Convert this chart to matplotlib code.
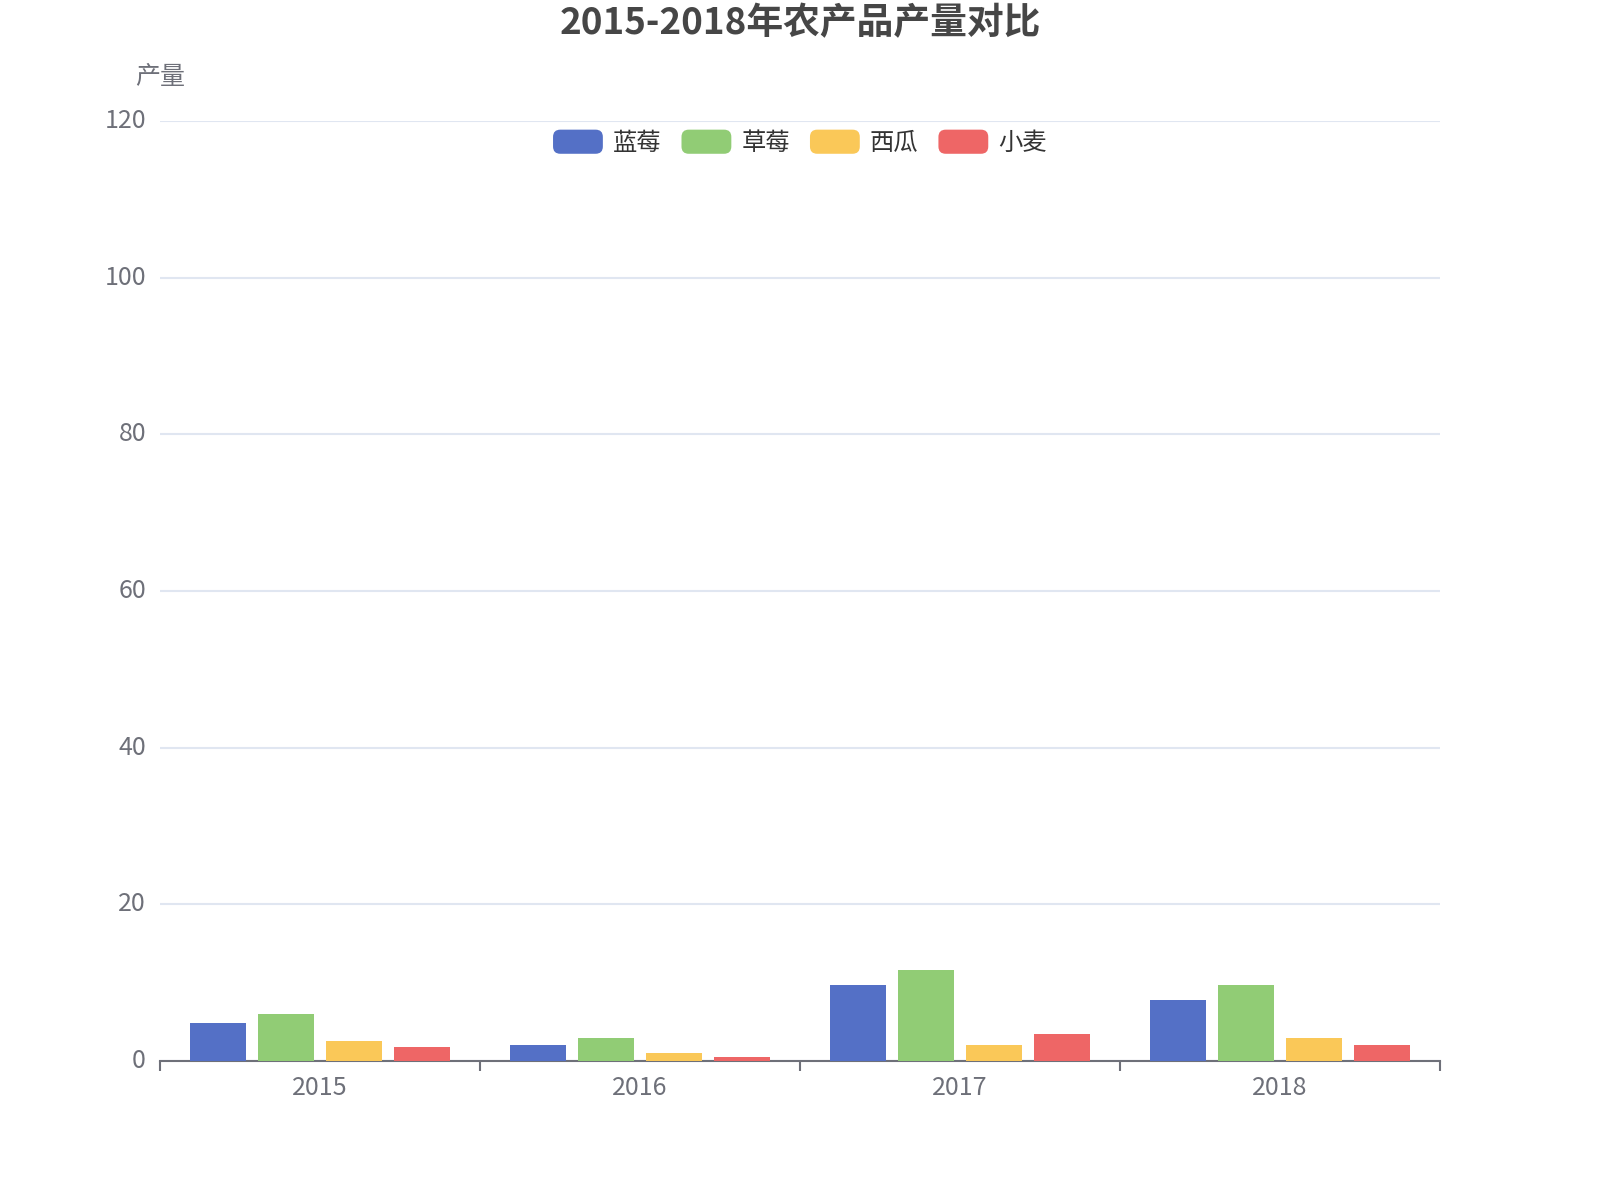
import numpy as np
import matplotlib
matplotlib.use('Agg')
import matplotlib.pyplot as plt
from matplotlib.patches import FancyBboxPatch
from matplotlib.legend_handler import HandlerPatch

plt.rcParams['font.family'] = ['Noto Sans CJK SC', 'DejaVu Sans']

## Data

years = ['2015', '2016', '2017', '2018']
series_names = ['蓝莓', '草莓', '西瓜', '小麦']
blueberry = [4.8, 2.0, 9.7, 7.8]
strawberry = [6.0, 2.9, 11.6, 9.7]
watermelon = [2.5, 1.0, 2.0, 2.9]
wheat = [1.7, 0.5, 3.4, 2.0]
series_values = [blueberry, strawberry, watermelon, wheat]
colors = ['#5470c6', '#91cc75', '#fac858', '#ee6666']

title = '2015-2018年农产品产量对比'
y_name = '产量'
y_ticks = [0, 20, 40, 60, 80, 100, 120]

label_color = '#6e7079'


class RoundHandler(HandlerPatch):
    def create_artists(self, legend, orig_handle, xdescent, ydescent,
                       width, height, fontsize, trans):
        p = FancyBboxPatch((-xdescent, -ydescent), width, height,
                           boxstyle='round,pad=0,rounding_size=%f' % (height * 0.3),
                           facecolor=orig_handle.get_facecolor(),
                           edgecolor='none', transform=trans)
        return [p]


## Plot

fig = plt.figure(figsize=(16, 12), dpi=100)
ax = fig.add_axes([0.1, 0.116, 0.8, 0.783])

x = np.arange(len(years))
bar_w = 0.178
step = 0.2125
offsets = (np.arange(len(series_names)) - (len(series_names) - 1) / 2) * step

handles = []
for name, vals, c, off in zip(series_names, series_values, colors, offsets):
    b = ax.bar(x + off, vals, width=bar_w, color=c, label=name, zorder=3)
    handles.append(b.patches[0])

ax.set_xlim(-0.5, len(years) - 0.5)
ax.set_ylim(0, 120)
ax.set_yticks(y_ticks)
ax.grid(axis='y', color='#E0E6F1', linewidth=1.5, zorder=0)
ax.set_axisbelow(True)

for s in ['top', 'right', 'left']:
    ax.spines[s].set_visible(False)
ax.spines['bottom'].set_color(label_color)
ax.spines['bottom'].set_linewidth(1.5)

ax.set_xticks(x)
ax.set_xticklabels(years)
ax.set_xticks(np.arange(-0.5, len(years)), minor=True)
ax.tick_params(axis='x', which='major', length=0, pad=10, labelsize=18, labelcolor=label_color)
ax.tick_params(axis='x', which='minor', length=7, width=1.5, color=label_color)
ax.tick_params(axis='y', length=0, pad=10, labelsize=18, labelcolor=label_color)
for lbl in ax.get_yticklabels():
    lbl.set_va('center')

ax.annotate(y_name, xy=(0, 1), xycoords='axes fraction', xytext=(0, 32),
            textcoords='offset points', ha='center', va='center',
            fontsize=18, color=label_color)

fig.text(0.5, 0.98, title, ha='center', va='center', fontsize=26.5,
         fontweight='bold', color='#464646')

fig.legend(handles, series_names, loc='center', bbox_to_anchor=(0.5, 0.881),
           ncol=4, frameon=False, fontsize=17.5, labelcolor='#333333',
           handlelength=2.05, handleheight=1.15, handletextpad=0.42,
           columnspacing=0.82, handler_map={matplotlib.patches.Rectangle: RoundHandler()})

fig.savefig('out.png', dpi=100)
